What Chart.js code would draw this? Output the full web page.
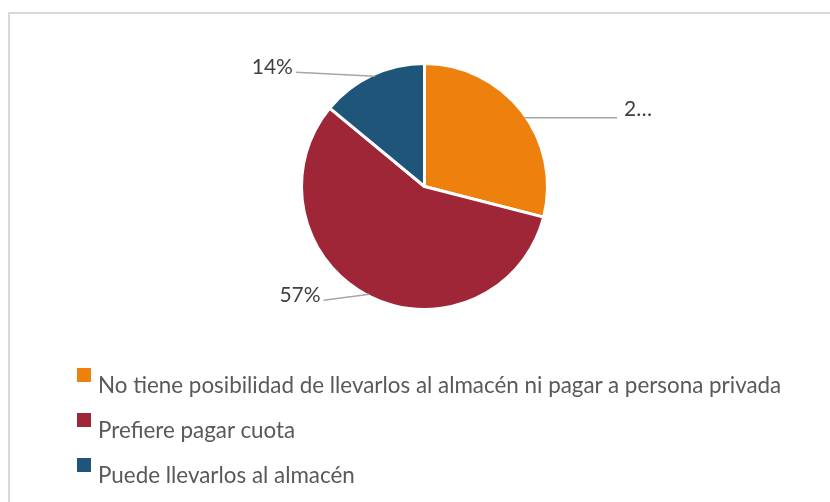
<!DOCTYPE html>
<html>
<head>
<meta charset="utf-8">
<script src="https://cdn.jsdelivr.net/npm/chart.js@4"></script>
<style>
  body { margin: 0; background: #fff; overflow: hidden; width: 830px; height: 502px; position: relative; }
  .frame { position: absolute; left: 8px; top: 12px; width: 900px; height: 600px; border: 2px solid #d9d9d9; box-sizing: border-box; }
  canvas { position: absolute; left: 0; top: 0; }
  #legend { position: absolute; left: 77px; top: 368px; font-family: Lato, sans-serif; font-size: 22.4px; color: #595959; }
  .item { position: relative; height: 45px; }
  .box { position: absolute; left: 0; top: 0; width: 14px; height: 14px; }
  .txt { position: absolute; left: 21px; top: 4px; white-space: nowrap; line-height: 26px; }
</style>
</head>
<body>
<div class="frame"></div>
<canvas id="myChart" width="830" height="502"></canvas>
<div id="legend"></div>
<script>
const categories = [
    'No tiene posibilidad de llevarlos al almacén ni pagar a persona privada',
    'Prefiere pagar cuota',
    'Puede llevarlos al almacén'
];
const values = [29, 57, 14];
const dataLabels = ['2…', '57%', '14%'];
const colors = ['rgb(238, 128, 14)', 'rgb(159, 38, 55)', 'rgb(30, 85, 120)'];

// leader lines: where on the slice they start, and where they end
const leaders = [
    { frac: 0.53, dx: 93, dy: 0, align: 'left' },
    { frac: 0.5, dx: -46, dy: 6, align: 'right' },
    { frac: 0.52, dx: -79, dy: -4, align: 'right' }
];

const leaderPlugin = {
    id: 'leaders',
    afterDatasetsDraw(chart) {
        const ctx = chart.ctx;
        const arcs = chart.getDatasetMeta(0).data;
        ctx.save();
        arcs.forEach((arc, i) => {
            const p = arc.getProps(['x', 'y', 'startAngle', 'endAngle', 'outerRadius'], true);
            const l = leaders[i];
            const a = p.startAngle + (p.endAngle - p.startAngle) * l.frac;
            const r = p.outerRadius - 2;
            const x0 = p.x + Math.cos(a) * r;
            const y0 = p.y + Math.sin(a) * r;
            const x1 = x0 + l.dx;
            const y1 = y0 + l.dy;
            ctx.strokeStyle = '#a6a6a6';
            ctx.lineWidth = 1.5;
            ctx.beginPath();
            ctx.moveTo(x0, y0);
            ctx.lineTo(x1, y1);
            ctx.stroke();
            ctx.fillStyle = '#404040';
            ctx.font = '21px Lato, sans-serif';
            ctx.textBaseline = 'alphabetic';
            if (l.align === 'left') {
                ctx.textAlign = 'left';
                ctx.fillText(dataLabels[i], x1 + 7, y1 - 2);
            } else {
                ctx.textAlign = 'right';
                ctx.fillText(dataLabels[i], x1 - 3, y1 + 2);
            }
        });
        ctx.restore();
    }
};

const ctx = document.getElementById('myChart').getContext('2d');
const myChart = new Chart(ctx, {
    type: 'pie',
    data: {
        labels: categories,
        datasets: [{
            data: values,
            backgroundColor: colors,
            borderColor: '#ffffff',
            borderWidth: 3,
            hoverOffset: 0
        }]
    },
    options: {
        responsive: false,
        animation: false,
        devicePixelRatio: 1,
        layout: {
            padding: { left: 300, top: 62, right: 281, bottom: 191 }
        },
        plugins: {
            legend: { display: false },
            tooltip: { enabled: false }
        }
    },
    plugins: [leaderPlugin]
});

const legend = document.getElementById('legend');
categories.forEach((name, i) => {
    const item = document.createElement('div');
    item.className = 'item';
    item.innerHTML = '<span class="box" style="background:' + colors[i] + '"></span><span class="txt"></span>';
    item.querySelector('.txt').textContent = name;
    legend.appendChild(item);
});
</script>
</body>
</html>
